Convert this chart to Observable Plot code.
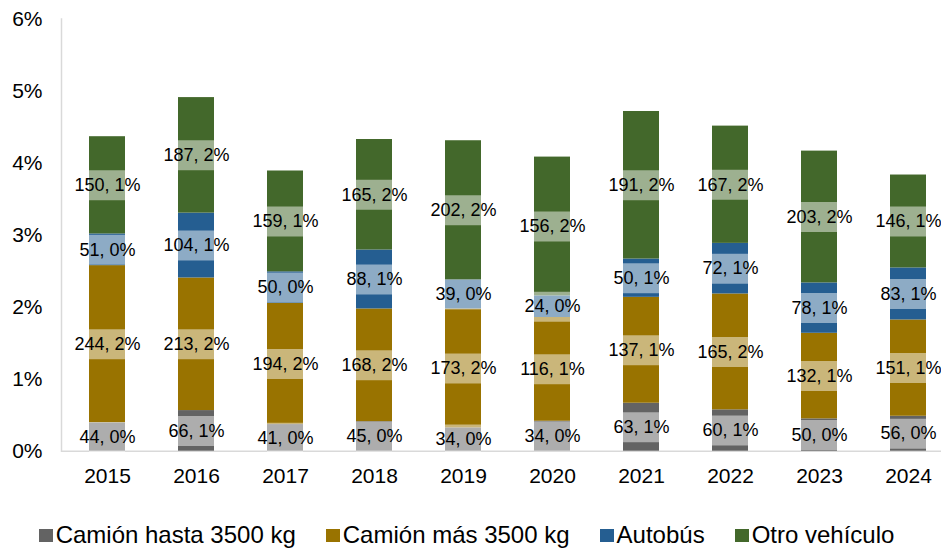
<!DOCTYPE html>
<html>
<head>
<meta charset="utf-8">
<script src="https://cdn.jsdelivr.net/npm/d3@7"></script>
<script src="https://cdn.jsdelivr.net/npm/@observablehq/plot@0.6"></script>
<style>
  body { margin: 0; background: #fff; font-family: "Liberation Sans", Arial, sans-serif; }
  #chart { width: 941px; }
  .legend { display: flex; justify-content: center; align-items: center; gap: 30px; height: 28px; padding-top: 21px; padding-right: 8px; font-size: 24px; line-height: 28px; color: #000; white-space: nowrap; }
  .legend .item { display: flex; align-items: center; }
  .legend .sw { width: 14px; height: 13px; margin-right: 3px; display: inline-block; }
</style>
</head>
<body>
<div id="chart"></div>
<script>
// Categories
const years = ["2015","2016","2017","2018","2019","2020","2021","2022","2023","2024"];
const seriesNames = ["Camión hasta 3500 kg", "Camión más 3500 kg", "Autobús", "Otro vehículo"];
const seriesColors = ["#636363", "#997300", "#255E91", "#43682B"];
const yTicks = [0, 1, 2, 3, 4, 5, 6];

// Segment heights (%)
const camionHastaPct = [0.394, 0.564, 0.370, 0.410, 0.324, 0.416, 0.666, 0.574, 0.449, 0.485];
const camionMasPct   = [2.182, 1.841, 1.683, 1.565, 1.651, 1.440, 1.470, 1.609, 1.188, 1.337];
const autobusPct     = [0.440, 0.900, 0.437, 0.818, 0.402, 0.300, 0.532, 0.702, 0.699, 0.722];
const otroPct        = [1.350, 1.604, 1.400, 1.534, 1.933, 1.927, 2.048, 1.628, 1.830, 1.290];

// Label counts
const camionHastaN = [44, 66, 41, 45, 34, 34, 63, 60, 50, 56];
const camionMasN   = [244, 213, 194, 168, 173, 116, 137, 165, 132, 151];
const autobusN     = [51, 104, 50, 88, 39, 24, 50, 72, 78, 83];
const otroN        = [150, 187, 159, 165, 202, 156, 191, 167, 203, 146];

// Label percentages
const camionHastaLbl = [0, 1, 0, 0, 0, 0, 1, 1, 0, 0];
const camionMasLbl   = [2, 2, 2, 2, 2, 1, 1, 2, 1, 1];
const autobusLbl     = [0, 1, 0, 1, 0, 0, 1, 1, 1, 1];
const otroLbl        = [1, 2, 1, 2, 2, 2, 2, 2, 2, 1];

const pctSeries = [camionHastaPct, camionMasPct, autobusPct, otroPct];
const nSeries = [camionHastaN, camionMasN, autobusN, otroN];
const lblSeries = [camionHastaLbl, camionMasLbl, autobusLbl, otroLbl];

const data = [];
years.forEach((yr, i) => {
  seriesNames.forEach((s, k) => {
    data.push({year: yr, series: s, value: pctSeries[k][i], label: `${nSeries[k][i]}, ${lblSeries[k][i]}%`});
  });
});

const stackOpts = {x: "year", y: "value", order: null};

const plot = Plot.plot({
  width: 941,
  height: 500,
  marginLeft: 61,
  marginRight: 0,
  marginTop: 18.5,
  marginBottom: 49.3,
  style: {fontFamily: "'Liberation Sans', Arial, sans-serif", fontSize: "21px", color: "#000", background: "#fff"},
  x: {domain: years, range: [61, 953], paddingInner: 0.6, paddingOuter: 0.3, tickSize: 0, tickPadding: 17, label: null},
  y: {domain: [0, 6], ticks: yTicks, tickFormat: d => d + "%", tickSize: 0, tickPadding: 19, label: null},
  color: {domain: seriesNames, range: seriesColors},
  marks: [
    Plot.frame({anchor: "left", stroke: "#D9D9D9", strokeWidth: 1.5}),
    Plot.ruleY([0], {stroke: "#D9D9D9", strokeWidth: 1.5}),
    Plot.barY(data, Plot.stackY({...stackOpts, fill: "series"})),
    Plot.tickY(data, Plot.stackY({...stackOpts, stroke: "#ffffff", strokeOpacity: 0.48, strokeWidth: 30})),
    Plot.text(data, Plot.stackY({...stackOpts, text: "label", fontSize: 18, fill: "#000"}))
  ]
});
document.getElementById("chart").appendChild(plot);

const legend = document.createElement("div");
legend.className = "legend";
seriesNames.forEach((s, k) => {
  const item = document.createElement("div");
  item.className = "item";
  const sw = document.createElement("span");
  sw.className = "sw";
  sw.style.background = seriesColors[k];
  const t = document.createElement("span");
  t.textContent = s;
  item.appendChild(sw);
  item.appendChild(t);
  legend.appendChild(item);
});
document.getElementById("chart").appendChild(legend);
</script>
</body>
</html>
